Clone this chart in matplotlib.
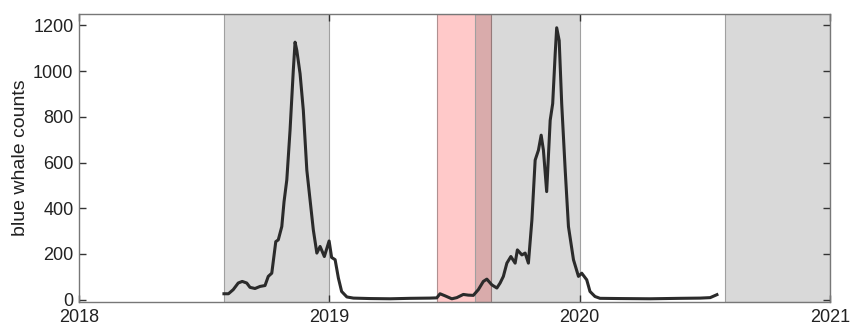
import matplotlib
matplotlib.use('Agg')
import matplotlib.pyplot as plt

plt.rcParams['font.family'] = ['Liberation Sans', 'DejaVu Sans']

# time in decimal years, blue whale call counts
t = [2018.579, 2018.597, 2018.616, 2018.636, 2018.652, 2018.670, 2018.683, 2018.703,
     2018.723, 2018.743, 2018.756, 2018.770, 2018.786, 2018.796, 2018.810, 2018.819,
     2018.830, 2018.843, 2018.856, 2018.863, 2018.870, 2018.883, 2018.896, 2018.910,
     2018.923, 2018.936, 2018.950, 2018.963, 2018.980, 2018.999, 2019.009, 2019.023,
     2019.036, 2019.049, 2019.070, 2019.096, 2019.163, 2019.243, 2019.322, 2019.402,
     2019.429, 2019.442, 2019.462, 2019.489, 2019.509, 2019.535, 2019.555, 2019.575,
     2019.595, 2019.615, 2019.629, 2019.649, 2019.669, 2019.682, 2019.695, 2019.709,
     2019.725, 2019.742, 2019.751, 2019.769, 2019.782, 2019.795, 2019.809, 2019.822,
     2019.835, 2019.846, 2019.855, 2019.868, 2019.882, 2019.892, 2019.902, 2019.908,
     2019.918, 2019.928, 2019.942, 2019.955, 2019.975, 2019.995, 2020.008, 2020.028,
     2020.041, 2020.061, 2020.081, 2020.161, 2020.281, 2020.401, 2020.481, 2020.521,
     2020.548]
counts = [26, 26, 44, 73, 80, 73, 54, 49,
          58, 62, 102, 116, 254, 262, 320, 429,
          524, 742, 1004, 1127, 1091, 989, 829, 567,
          436, 305, 204, 233, 189, 257, 185, 175,
          95, 36, 12, 7, 5, 4, 6, 7,
          8, 26, 17, 4, 9, 23, 20, 19,
          44, 80, 90, 65, 51, 73, 102, 160,
          189, 160, 218, 196, 204, 160, 349, 611,
          654, 720, 654, 473, 785, 858, 1076, 1190,
          1134, 858, 567, 320, 175, 102, 116, 87,
          36, 14, 6, 5, 4, 6, 7, 9,
          22]

# shaded periods
gray_start = [2018.58, 2019.58, 2020.58]
gray_end = [2019.0, 2020.0, 2021.0]
pink_start = [2019.43]
pink_end = [2019.647]

fig = plt.figure(figsize=(8.54, 3.27), dpi=100)
ax = fig.add_axes([0.0925, 0.0765, 0.8795, 0.8805])

for a, b in zip(pink_start, pink_end):
    ax.axvspan(a, b, facecolor=(1, 0, 0, 0.21), edgecolor='#b09090', linewidth=0.8, zorder=1)
for a, b in zip(gray_start, gray_end):
    ax.axvspan(a, b, facecolor=(0, 0, 0, 0.15), edgecolor='#a0a0a0', linewidth=0.8, zorder=1)

ax.plot(t, counts, color='#2b2b2b', linewidth=2.2, zorder=3)

ax.set_xlim(2018, 2021)
ax.set_ylim(-10, 1250)
ax.set_xticks([2018, 2019, 2020, 2021])
ax.set_xticklabels(['2018', '2019', '2020', '2021'])
ax.set_yticks([0, 200, 400, 600, 800, 1000, 1200])
ax.tick_params(direction='in', top=True, right=True, length=5, width=1,
               color='#333333', labelsize=13, labelcolor='#222222')
ax.tick_params(axis='x', pad=5)
ax.tick_params(axis='y', pad=4)
ax.set_ylabel('blue whale counts', fontsize=14, color='#222222', labelpad=3)
for s in ax.spines.values():
    s.set_color('#777777')
    s.set_linewidth(1.0)
    s.set_zorder(4)

fig.savefig('out.png', dpi=100)
